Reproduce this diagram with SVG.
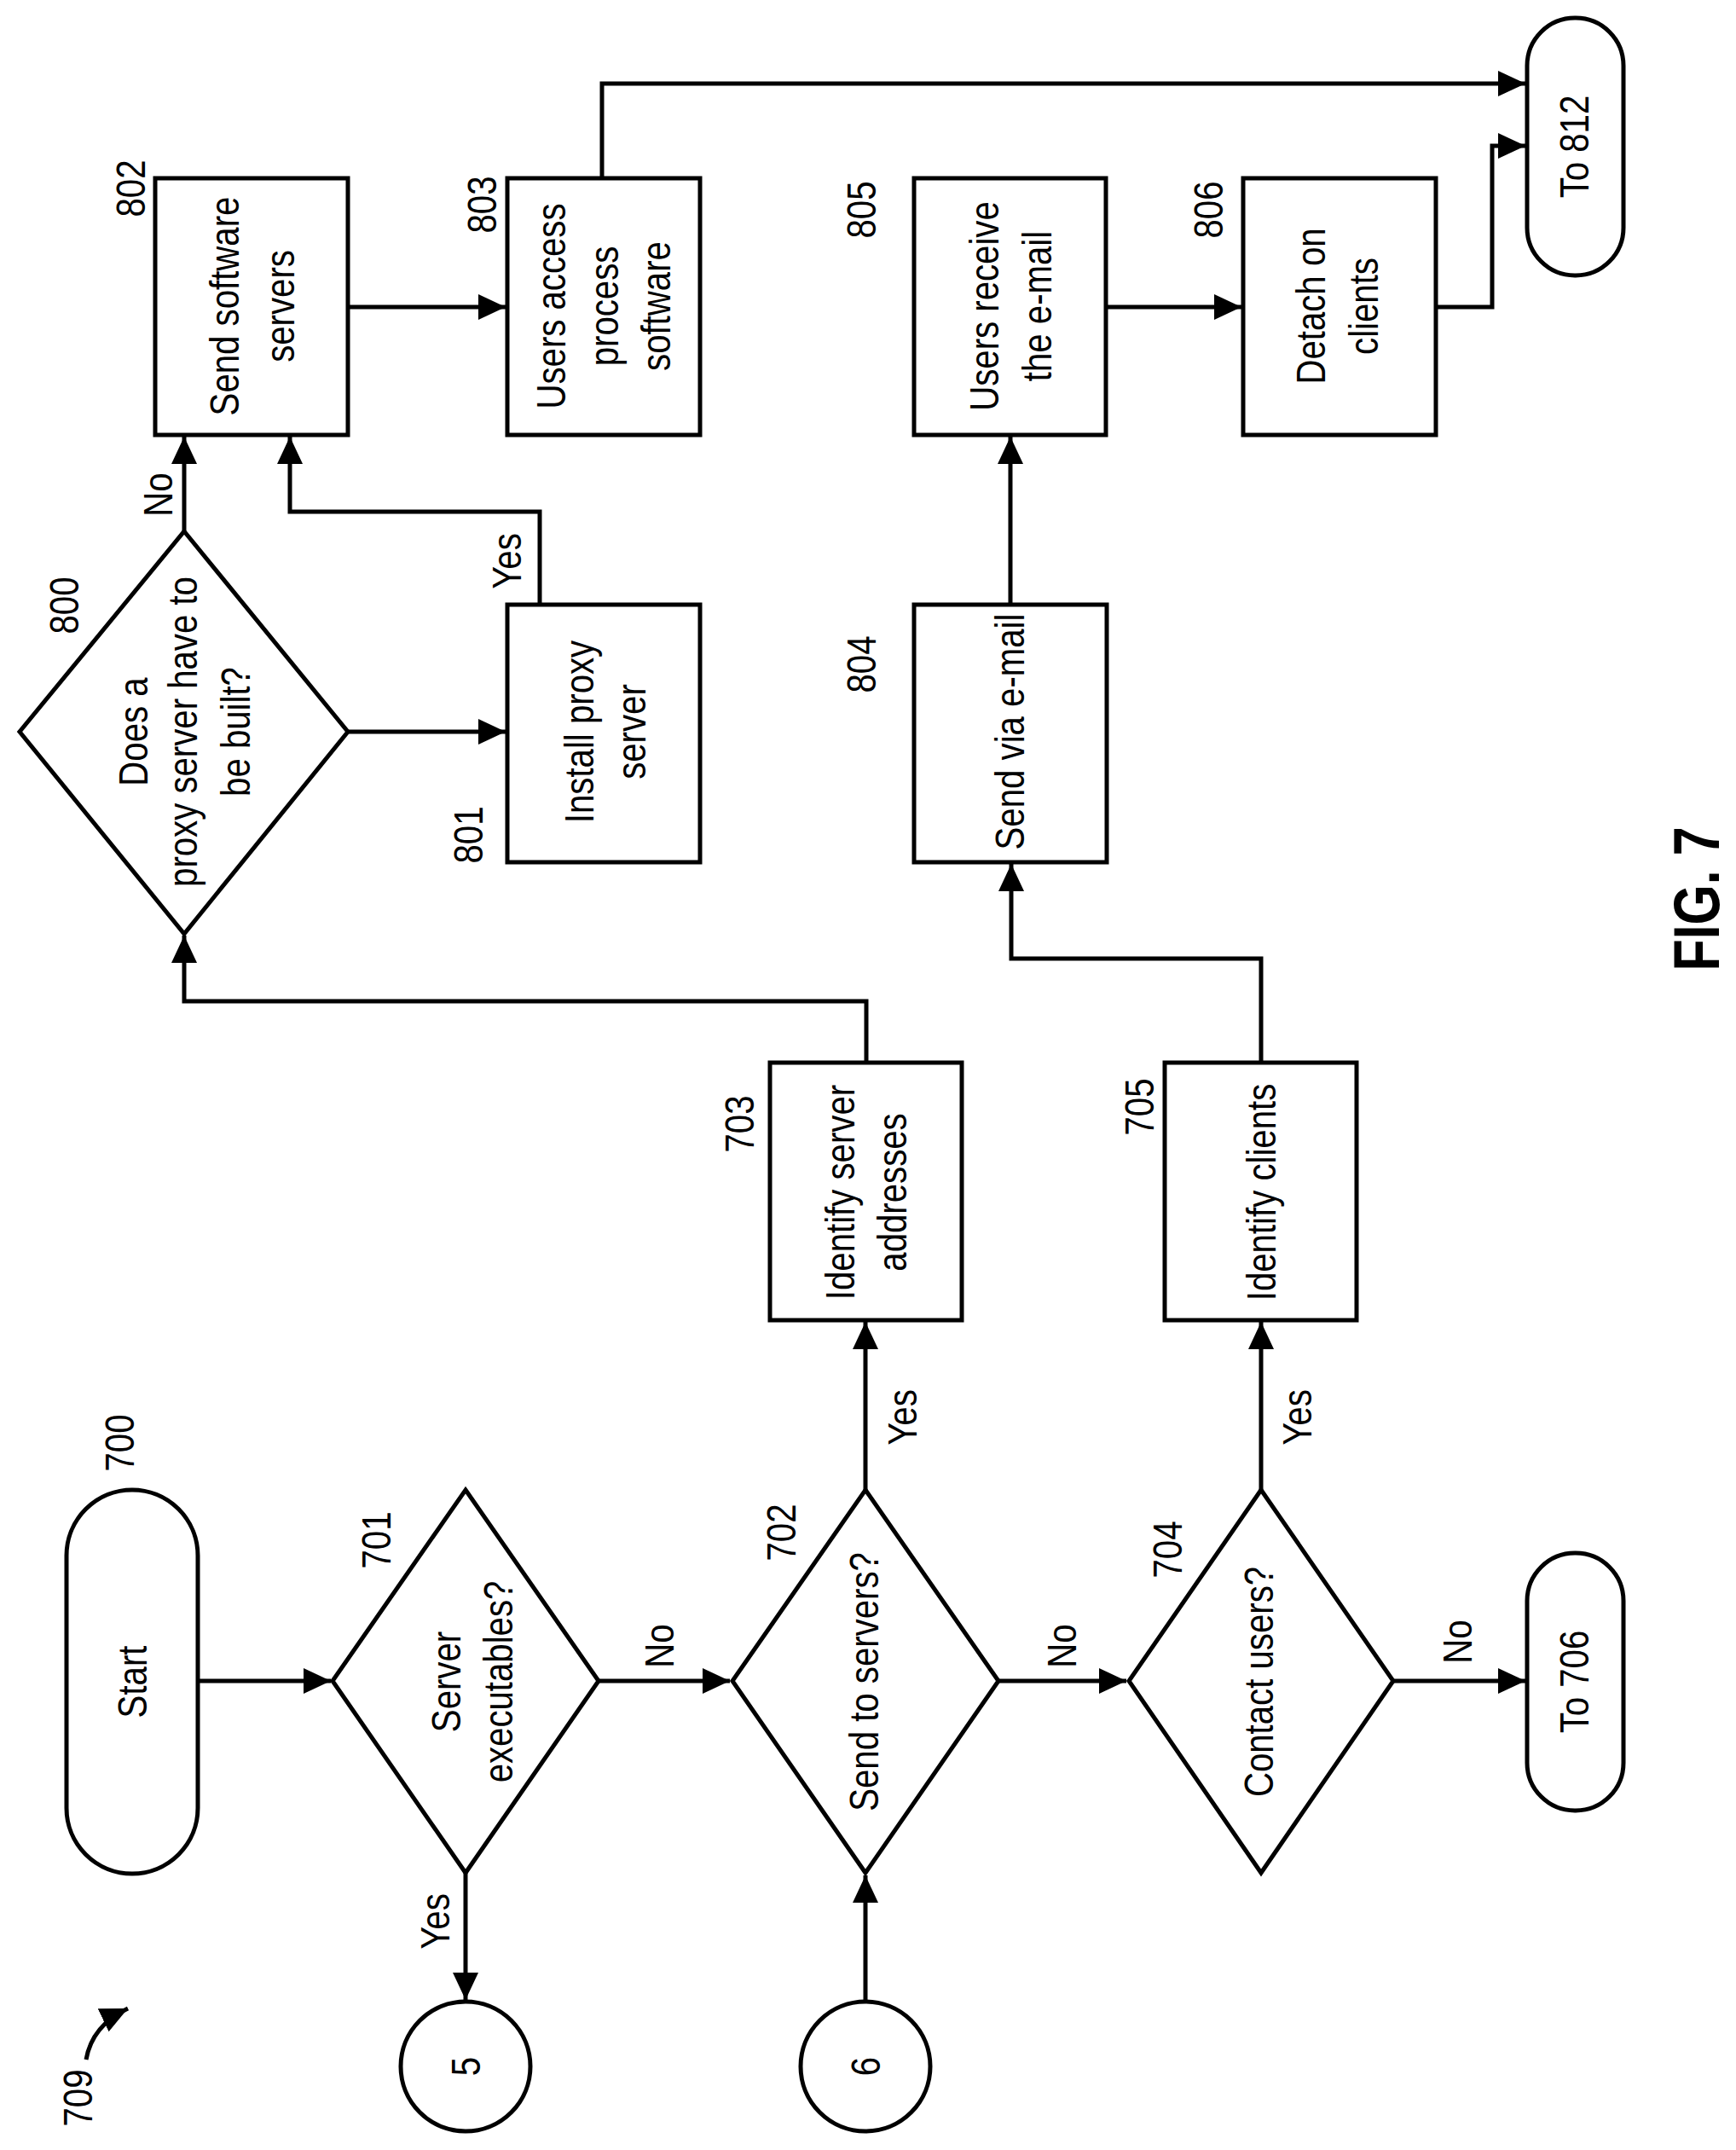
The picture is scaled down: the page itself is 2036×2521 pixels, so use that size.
<svg xmlns="http://www.w3.org/2000/svg" width="2036" height="2521" viewBox="0 0 2036 2521">
<style>
.s{fill:none;stroke:#000;stroke-width:5}
.n{fill:#fff;stroke:#000;stroke-width:5}
text{font-family:"Liberation Sans",Arial,sans-serif;font-size:49px;fill:#000;text-anchor:middle;dominant-baseline:central}
.b{font-weight:bold;font-size:76px}
</style>
<defs>
<marker id="a" markerUnits="userSpaceOnUse" markerWidth="34" markerHeight="32" refX="32" refY="15" orient="auto"><path d="M0,0 L32,15 L0,30 z" fill="#000"/></marker>
</defs>
<rect width="2036" height="2521" fill="#fff"/>
<g id="connectors">
<path class="s" d="M232,1971 H388" marker-end="url(#a)"/>
<path class="s" d="M702,1971 H856" marker-end="url(#a)"/>
<path class="s" d="M1171,1971 H1321" marker-end="url(#a)"/>
<path class="s" d="M1634,1971 H1789" marker-end="url(#a)"/>
<path class="s" d="M546,2196 V2345" marker-end="url(#a)"/>
<path class="s" d="M1015,2346 V2199" marker-end="url(#a)"/>
<path class="s" d="M1015,1747 V1550" marker-end="url(#a)"/>
<path class="s" d="M1479,1747 V1550" marker-end="url(#a)"/>
<path class="s" d="M1016,1246 V1174 H216 V1097" marker-end="url(#a)"/>
<path class="s" d="M1479,1246 V1124 H1186 V1013" marker-end="url(#a)"/>
<path class="s" d="M1185,709 V512" marker-end="url(#a)"/>
<path class="s" d="M216,623 V512" marker-end="url(#a)"/>
<path class="s" d="M633,709 V600 H340 V512" marker-end="url(#a)"/>
<path class="s" d="M408,858 H593" marker-end="url(#a)"/>
<path class="s" d="M408,360 H593" marker-end="url(#a)"/>
<path class="s" d="M1297,360 H1456" marker-end="url(#a)"/>
<path class="s" d="M706,209 V98 H1789" marker-end="url(#a)"/>
<path class="s" d="M1684,360 H1750 V171 H1789" marker-end="url(#a)"/>
<path class="s" d="M101,2415 Q108,2375 150,2355" marker-end="url(#a)"/>
</g>
<g id="n700"><rect class="n" x="78" y="1747" width="154" height="450" rx="77"/><text transform="translate(155,1972) rotate(-90) scale(0.82,1)">Start</text></g>
<g id="n701"><path class="n" d="M546,1747 L702,1971 L546,2196 L390,1971 z"/><text transform="translate(523,1972) rotate(-90) scale(0.82,1)">Server</text><text transform="translate(584,1972) rotate(-90) scale(0.82,1)">executables?</text></g>
<g id="n702"><path class="n" d="M1015,1747 L1171,1971 L1015,2196 L859,1971 z"/><text transform="translate(1013,1972) rotate(-90) scale(0.82,1)">Send to servers?</text></g>
<g id="n704"><path class="n" d="M1479,1747 L1634,1971 L1479,2196 L1324,1971 z"/><text transform="translate(1476,1972) rotate(-90) scale(0.82,1)">Contact users?</text></g>
<g id="n706"><rect class="n" x="1791" y="1821" width="113" height="302" rx="56"/><text transform="translate(1846,1972) rotate(-90) scale(0.82,1)">To 706</text></g>
<g id="c5"><circle class="n" cx="546" cy="2423" r="76"/><text transform="translate(546,2423) rotate(-90) scale(0.82,1)">5</text></g>
<g id="c6"><circle class="n" cx="1015" cy="2423" r="76"/><text transform="translate(1015,2423) rotate(-90) scale(0.82,1)">6</text></g>
<g id="n703"><rect class="n" x="903" y="1246" width="225" height="302"/><text transform="translate(985,1398) rotate(-90) scale(0.82,1)">Identify server</text><text transform="translate(1046,1398) rotate(-90) scale(0.82,1)">addresses</text></g>
<g id="n705"><rect class="n" x="1366" y="1246" width="225" height="302"/><text transform="translate(1479,1398) rotate(-90) scale(0.82,1)">Identify clients</text></g>
<g id="n800"><path class="n" d="M216,623 L408,858 L216,1095 L23,858 z"/><text transform="translate(156,858) rotate(-90) scale(0.82,1)">Does a</text><text transform="translate(214,858) rotate(-90) scale(0.82,1)">proxy server have to</text><text transform="translate(276,858) rotate(-90) scale(0.82,1)">be built?</text></g>
<g id="n801"><rect class="n" x="595" y="709" width="226" height="302"/><text transform="translate(679,858) rotate(-90) scale(0.82,1)">Install proxy</text><text transform="translate(740,858) rotate(-90) scale(0.82,1)">server</text></g>
<g id="n802"><rect class="n" x="182" y="209" width="226" height="301"/><text transform="translate(263,359) rotate(-90) scale(0.82,1)">Send software</text><text transform="translate(328,359) rotate(-90) scale(0.82,1)">servers</text></g>
<g id="n803"><rect class="n" x="595" y="209" width="226" height="301"/><text transform="translate(646,359) rotate(-90) scale(0.82,1)">Users access</text><text transform="translate(708,359) rotate(-90) scale(0.82,1)">process</text><text transform="translate(769,359) rotate(-90) scale(0.82,1)">software</text></g>
<g id="n804"><rect class="n" x="1072" y="709" width="226" height="302"/><text transform="translate(1184,858) rotate(-90) scale(0.82,1)">Send via e-mail</text></g>
<g id="n805"><rect class="n" x="1072" y="209" width="225" height="301"/><text transform="translate(1154,359) rotate(-90) scale(0.82,1)">Users receive</text><text transform="translate(1216,359) rotate(-90) scale(0.82,1)">the e-mail</text></g>
<g id="n806"><rect class="n" x="1458" y="209" width="226" height="301"/><text transform="translate(1537,359) rotate(-90) scale(0.82,1)">Detach on</text><text transform="translate(1599,359) rotate(-90) scale(0.82,1)">clients</text></g>
<g id="n812"><rect class="n" x="1791" y="21" width="113" height="302" rx="56"/><text transform="translate(1846,172) rotate(-90) scale(0.82,1)">To 812</text></g>
<g id="labels">
<text transform="translate(140,1692) rotate(-90) scale(0.82,1)">700</text>
<text transform="translate(441,1806) rotate(-90) scale(0.82,1)">701</text>
<text transform="translate(916,1797) rotate(-90) scale(0.82,1)">702</text>
<text transform="translate(1369,1817) rotate(-90) scale(0.82,1)">704</text>
<text transform="translate(867,1318) rotate(-90) scale(0.82,1)">703</text>
<text transform="translate(1336,1298) rotate(-90) scale(0.82,1)">705</text>
<text transform="translate(75,710) rotate(-90) scale(0.82,1)">800</text>
<text transform="translate(549,979) rotate(-90) scale(0.82,1)">801</text>
<text transform="translate(153,221) rotate(-90) scale(0.82,1)">802</text>
<text transform="translate(565,240) rotate(-90) scale(0.82,1)">803</text>
<text transform="translate(1010,779) rotate(-90) scale(0.82,1)">804</text>
<text transform="translate(1010,246) rotate(-90) scale(0.82,1)">805</text>
<text transform="translate(1417,246) rotate(-90) scale(0.82,1)">806</text>
<text transform="translate(91,2460) rotate(-90) scale(0.82,1)">709</text>
<text transform="translate(773,1930) rotate(-90) scale(0.82,1)">No</text>
<text transform="translate(1245,1930) rotate(-90) scale(0.82,1)">No</text>
<text transform="translate(1709,1925) rotate(-90) scale(0.82,1)">No</text>
<text transform="translate(185,580) rotate(-90) scale(0.82,1)">No</text>
<text transform="translate(510,2253) rotate(-90) scale(0.82,1)">Yes</text>
<text transform="translate(1058,1662) rotate(-90) scale(0.82,1)">Yes</text>
<text transform="translate(1521,1662) rotate(-90) scale(0.82,1)">Yes</text>
<text transform="translate(594,658) rotate(-90) scale(0.82,1)">Yes</text>
<text class="b" transform="translate(1990,1054) rotate(-90) scale(0.8,1)">FIG. 7</text>
</g>
</svg>
